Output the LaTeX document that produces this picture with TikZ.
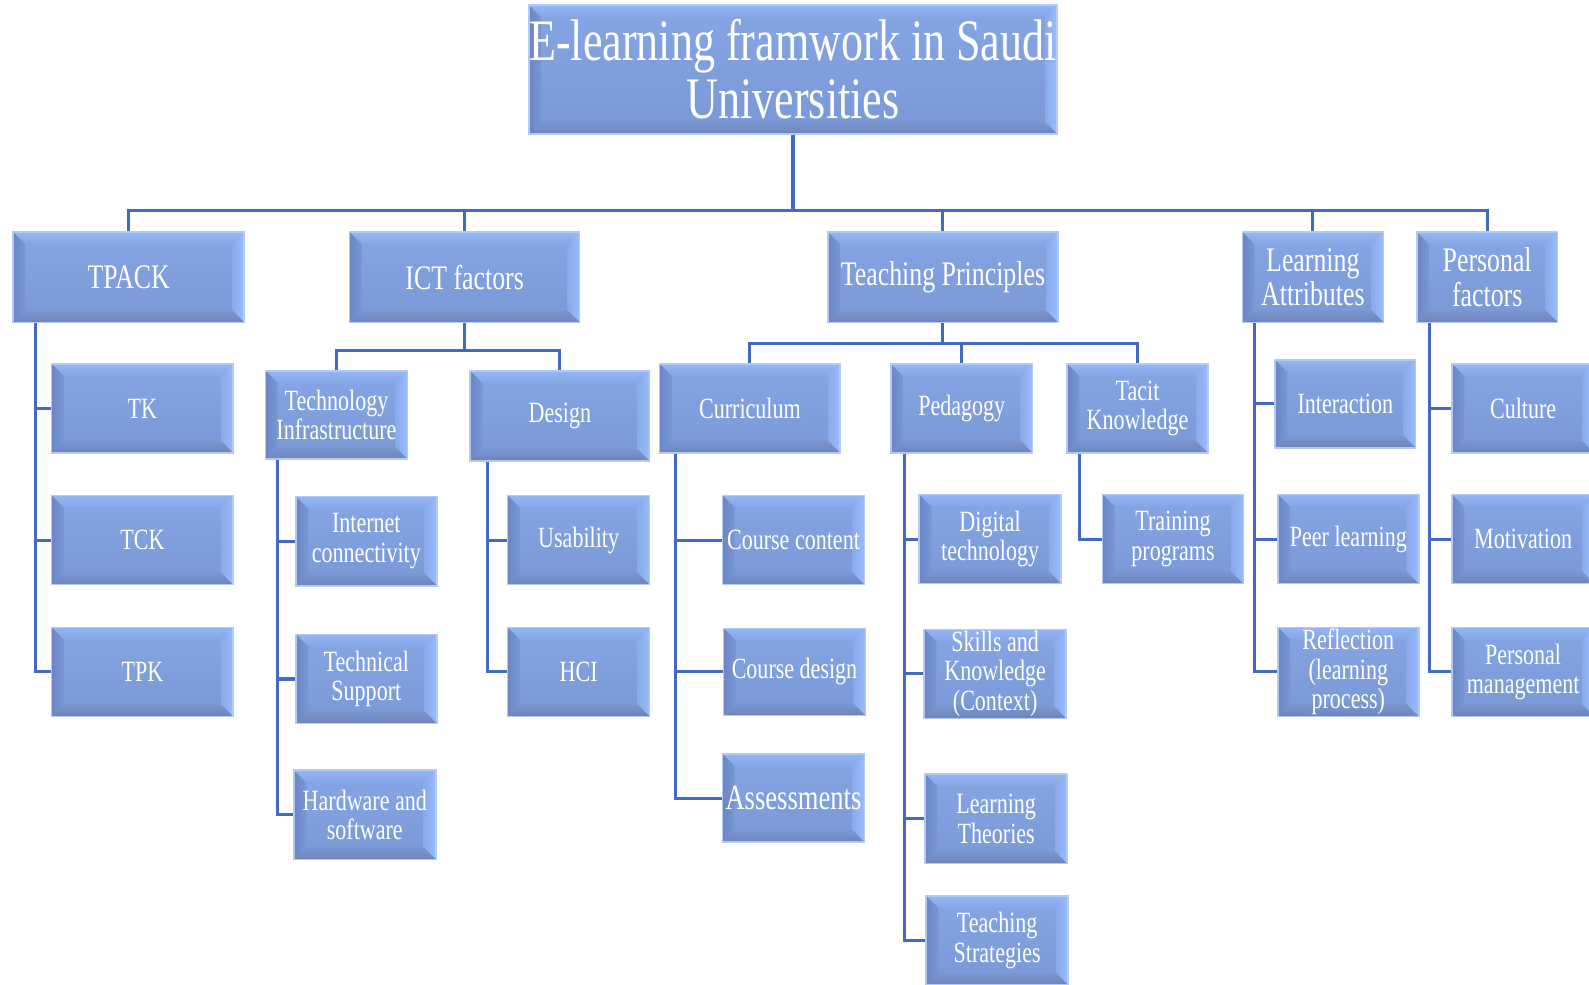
\documentclass[tikz,border=0pt]{standalone}
\usepackage{fontspec}
\setmainfont{Liberation Serif}[FakeStretch=0.75]
\definecolor{faceT}{RGB}{134,165,228}
\definecolor{faceB}{RGB}{122,152,214}
\definecolor{face}{RGB}{127,158,221}
\definecolor{bevT}{RGB}{148,182,246}
\definecolor{bevR}{RGB}{152,188,255}
\definecolor{bevL}{RGB}{106,134,196}
\definecolor{bevB}{RGB}{110,132,186}
\definecolor{rim}{RGB}{180,202,243}
\definecolor{wirec}{RGB}{66,106,192}
\tikzset{
  box/.style={draw=rim, line width=1.5pt, top color=faceT, bottom color=faceB,
    text=white, align=center, inner sep=0pt,
    font=\fontsize{29}{29}\selectfont,
    path picture={
      \coordinate (pNW) at (path picture bounding box.north west);
      \coordinate (pNE) at (path picture bounding box.north east);
      \coordinate (pSW) at (path picture bounding box.south west);
      \coordinate (pSE) at (path picture bounding box.south east);
      \shade[top color=bevT, bottom color=face!70!bevT]
        (pNW) -- (pNE) -- ([shift={(-12pt,-12pt)}]pNE) -- ([shift={(12pt,-12pt)}]pNW) -- cycle;
      \shade[right color=bevR, left color=face!60!bevR]
        (pNE) -- (pSE) -- ([shift={(-12pt,12pt)}]pSE) -- ([shift={(-12pt,-12pt)}]pNE) -- cycle;
      \shade[bottom color=bevB, top color=face!70!bevB]
        (pSW) -- (pSE) -- ([shift={(-12pt,12pt)}]pSE) -- ([shift={(12pt,12pt)}]pSW) -- cycle;
      \shade[left color=bevL, right color=face!70!bevL]
        (pNW) -- (pSW) -- ([shift={(12pt,12pt)}]pSW) -- ([shift={(12pt,-12pt)}]pNW) -- cycle;
    }},
  sz/.style 2 args={minimum width=#1pt, minimum height=#2pt},
  top1/.style={font=\fontsize{34}{34}\selectfont},
  wire/.style={draw=wirec, line width=3pt},
}
\begin{document}
\begin{tikzpicture}[x=1pt,y=-1pt]
\useasboundingbox (0,0) rectangle (1568,971);
\clip (0,0) rectangle (1568,971);
\fill[white] (0,0) rectangle (1568,971);

% title
\node[box, sz={521}{127}, font=\fontsize{58}{57}\selectfont] (title) at (782.5,68.5) {E-learning framwork in Saudi\\Universities};

% level 1
\node[box, top1, sz={228}{89}] (tpack) at (127,273.5) {TPACK};
\node[box, top1, sz={227}{89}] (ict) at (458.5,273.5) {ICT factors};
\node[box, top1, sz={227}{89}] (teach) at (930.5,273.5) {Teaching Principles};
\node[box, top1, sz={139}{89}] (learn) at (1295.5,273.5) {Learning\\Attributes};
\node[box, top1, sz={139}{89}] (pers) at (1467.5,273.5) {Personal\\factors};

% TPACK children
\node[box, sz={179}{88}] (tk) at (140.5,403) {TK};
\node[box, sz={179}{88}] (tck) at (140.5,533) {TCK};
\node[box, sz={179}{88}] (tpk) at (140.5,663) {TPK};

% ICT children
\node[box, sz={140}{87}] (techinf) at (332,409.5) {Technology\\Infrastructure};
\node[box, sz={177}{89}] (design) at (552.5,410.5) {Design};
\node[box, sz={139}{88}] (inet) at (361.5,534) {Internet\\connectivity};
\node[box, sz={139}{88}] (techsup) at (361.5,670) {Technical\\Support};
\node[box, sz={140}{88}] (hw) at (360,804) {Hardware and\\software};
\node[box, sz={140}{88}] (usab) at (571,533) {Usability};
\node[box, sz={140}{88}] (hci) at (571,663) {HCI};

% Teaching principles children
\node[box, sz={178}{88}] (curr) at (740,403) {Curriculum};
\node[box, sz={140}{88}] (peda) at (949,403) {Pedagogy};
\node[box, sz={139}{88}] (tacit) at (1122.5,403) {Tacit\\Knowledge};
\node[box, sz={140}{88}] (ccont) at (783,533) {Course content};
\node[box, sz={140}{86}] (cdes) at (784,663) {Course design};
\node[box, sz={140}{87}, font=\fontsize{35}{35}\selectfont] (assess) at (783,787.5) {Assessments};
\node[box, sz={140}{88}] (digit) at (977,532) {Digital\\technology};
\node[box, sz={140}{88}] (skills) at (982,665) {Skills and\\Knowledge\\(Context)};
\node[box, sz={140}{88}] (ltheo) at (983,808) {Learning\\Theories};
\node[box, sz={140}{88}] (tstrat) at (984,928) {Teaching\\Strategies};
\node[box, sz={139}{88}] (train) at (1157.5,532) {Training\\programs};

% Learning attributes children
\node[box, sz={139}{87}] (inter) at (1327.5,398.5) {Interaction};
\node[box, sz={139}{88}] (peer) at (1330.5,532) {Peer learning};
\node[box, sz={139}{88}] (refl) at (1330.5,663) {Reflection\\(learning\\process)};

% Personal factors children
\node[box, sz={140}{88}] (culture) at (1503,403) {Culture};
\node[box, sz={140}{88}] (motiv) at (1503,532) {Motivation};
\node[box, sz={140}{88}] (pman) at (1503,663) {Personal\\management};

% buses
\coordinate (bus) at (0,208);
\foreach \n in {tpack,ict,teach,learn,pers}
  \draw[wire] (title.south) |- (\n.north |- bus) -- (\n.north);
\coordinate (busI) at (0,346);
\foreach \n in {techinf,design}
  \draw[wire] (ict.south) |- (\n.north |- busI) -- (\n.north);
\coordinate (busT) at (0,339);
\foreach \n in {curr,peda,tacit}
  \draw[wire] (teach.south) |- (\n.north |- busT) -- (\n.north);

% trunks
\coordinate (xTP) at (35,0);
\foreach \n in {tk,tck,tpk} \draw[wire] (tpack.south -| xTP) |- (\n.west);
\coordinate (xTI) at (274,0);
\foreach \n in {inet,techsup,hw} \draw[wire] (techinf.south -| xTI) |- (\n.west);
\coordinate (xDE) at (481,0);
\foreach \n in {usab,hci} \draw[wire] (design.south -| xDE) |- (\n.west);
\coordinate (xCU) at (667,0);
\foreach \n in {ccont,cdes,assess} \draw[wire] (curr.south -| xCU) |- (\n.west);
\coordinate (xPE) at (893,0);
\foreach \n in {digit,skills,ltheo,tstrat} \draw[wire] (peda.south -| xPE) |- (\n.west);
\coordinate (xTA) at (1065,0);
\draw[wire] (tacit.south -| xTA) |- (train.west);
\coordinate (xLA) at (1238,0);
\foreach \n in {inter,peer,refl} \draw[wire] (learn.south -| xLA) |- (\n.west);
\coordinate (xPF) at (1411,0);
\foreach \n in {culture,motiv,pman} \draw[wire] (pers.south -| xPF) |- (\n.west);
\end{tikzpicture}
\end{document}
